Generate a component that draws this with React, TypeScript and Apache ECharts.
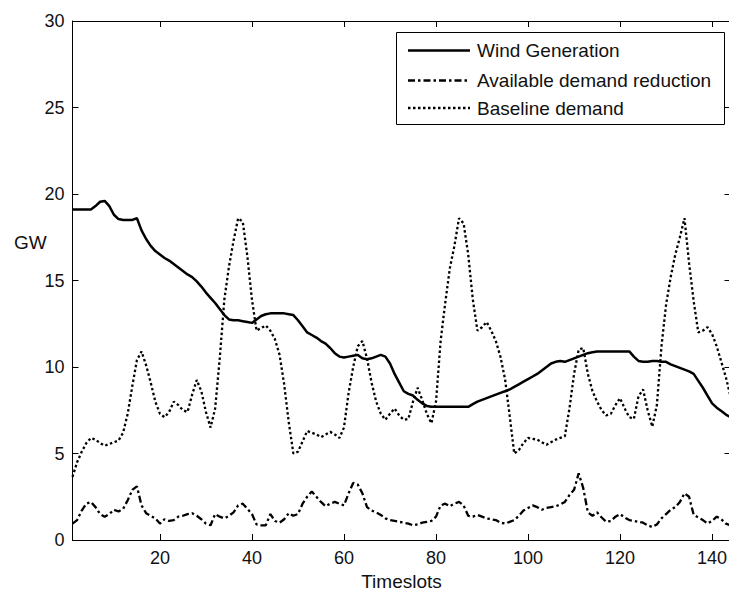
import React, { useEffect, useRef } from "react";
import * as echarts from "echarts";

const SERIES_NAMES = ["Wind Generation", "Available demand reduction", "Baseline demand"];
const X_TICKS = [20, 40, 60, 80, 100, 120, 140];
const X_NAME = "Timeslots";
const Y_NAME = "GW";

const windGeneration = [
  19.1, 19.1, 19.1, 19.1, 19.1, 19.3, 19.55, 19.6, 19.3, 18.8,
  18.55, 18.5, 18.5, 18.5, 18.6, 17.9, 17.4, 17.0, 16.7, 16.5,
  16.3, 16.15, 15.95, 15.75, 15.55, 15.35, 15.2, 14.95, 14.65, 14.3,
  14.0, 13.7, 13.35, 13.0, 12.75, 12.7, 12.7, 12.65, 12.6, 12.55,
  12.75, 12.95, 13.05, 13.1, 13.1, 13.1, 13.1, 13.05, 13.0, 12.7,
  12.35, 12.0, 11.85, 11.7, 11.5, 11.35, 11.1, 10.8, 10.6, 10.55,
  10.6, 10.65, 10.7, 10.5, 10.45, 10.5, 10.6, 10.7, 10.6, 10.2,
  9.6, 9.1, 8.6, 8.45, 8.35, 8.1, 7.9, 7.75, 7.7, 7.7,
  7.7, 7.7, 7.7, 7.7, 7.7, 7.7, 7.7, 7.85, 8.0, 8.1,
  8.2, 8.3, 8.4, 8.5, 8.6, 8.7, 8.85, 9.0, 9.15, 9.3,
  9.45, 9.6, 9.8, 10.0, 10.2, 10.3, 10.35, 10.3, 10.4, 10.5,
  10.6, 10.7, 10.8, 10.85, 10.9, 10.9, 10.9, 10.9, 10.9, 10.9,
  10.9, 10.9, 10.6, 10.35, 10.3, 10.3, 10.35, 10.35, 10.3, 10.3,
  10.15, 10.05, 9.95, 9.85, 9.75, 9.6, 9.2, 8.8, 8.35, 7.9,
  7.65, 7.45, 7.25, 7.1,
];

const demandReduction = [
  0.95, 1.15, 1.7, 2.1, 2.2, 1.9, 1.5, 1.35, 1.5, 1.75,
  1.65, 1.8, 2.3, 2.9, 3.1, 2.0, 1.55, 1.4, 1.25, 0.95,
  1.2, 1.1, 1.15, 1.35, 1.4, 1.5, 1.55, 1.4, 1.2, 0.95,
  0.85, 1.5, 1.35, 1.25, 1.4, 1.6, 2.0, 2.1, 1.8, 1.5,
  0.9, 0.85, 0.85, 1.5, 1.1, 1.0, 1.2, 1.55, 1.4, 1.5,
  2.1, 2.5, 2.8, 2.5, 2.2, 1.95, 2.1, 2.2, 2.1, 2.0,
  2.7, 3.3, 3.2, 2.7, 1.9, 1.7, 1.6, 1.45, 1.25, 1.15,
  1.1, 1.05, 1.0, 0.95, 0.85, 0.9, 1.0, 1.05, 1.1, 1.35,
  2.0, 2.1, 1.95, 2.1, 2.2, 2.0, 1.4, 1.35, 1.45, 1.35,
  1.25, 1.2, 1.15, 1.0, 0.95, 1.05, 1.15, 1.4, 1.7, 1.85,
  2.0, 1.9, 1.75, 1.85, 1.9, 1.95, 2.05, 2.2, 2.6, 2.9,
  3.85, 3.0, 1.6, 1.4, 1.6, 1.3, 1.05, 1.1, 1.35, 1.5,
  1.3, 1.15, 1.1, 1.05, 1.0, 0.85, 0.75, 0.9, 1.25, 1.5,
  1.75, 1.9, 2.2, 2.7, 2.5, 1.45, 1.3, 1.15, 0.95, 1.1,
  1.35, 1.2, 0.95, 0.85,
];

const baselineDemand = [
  3.65, 4.5, 5.1, 5.6, 5.9, 5.8, 5.6, 5.45, 5.55, 5.65,
  5.75, 6.2, 7.3, 8.9, 10.4, 10.9, 10.1, 9.1, 8.0, 7.3,
  7.1, 7.4, 8.0, 7.8, 7.5, 7.4, 8.4, 9.25, 8.6, 7.4,
  6.5, 7.6, 10.5, 13.9, 15.8, 17.3, 18.6, 18.4, 16.4, 13.9,
  12.1, 12.25, 12.4, 12.1, 11.6, 10.7, 9.0, 6.8, 5.0, 5.1,
  5.7, 6.3, 6.2, 6.1, 5.95, 6.1, 6.25, 6.1, 5.9, 6.5,
  8.5, 10.0, 11.2, 11.5, 10.5, 9.1, 8.0, 7.3, 6.95, 7.3,
  7.6, 7.2, 6.95, 7.0, 8.0, 8.8, 8.1, 7.3, 6.75, 8.0,
  11.5, 13.7, 15.7, 17.0, 18.6, 18.3, 16.5, 13.9, 12.1, 12.3,
  12.6, 12.1, 11.5, 10.6, 9.3, 7.2, 5.0, 5.2, 5.6, 5.9,
  5.85, 5.8, 5.65, 5.5, 5.65, 5.8, 5.9, 6.0, 7.6, 9.6,
  11.0, 11.1, 9.6, 8.6, 8.0, 7.5, 7.2, 7.3, 7.8, 8.2,
  7.6, 7.1, 7.0, 8.3, 8.7, 7.5, 6.55, 7.8, 11.2, 13.6,
  15.2, 16.5, 17.5, 18.6, 16.0, 13.8, 12.0, 12.1, 12.3, 11.9,
  11.2, 10.3, 9.4, 8.3,
];

const timeslots = windGeneration.map((_, i) => i + 1);

const FONT = "'Liberation Sans', Arial, sans-serif";
const TEXT_COLOR = "#111";
const DASH_DOT = [7, 3, 2.5, 3];
const DOTTED = [2.5, 2.5];

export default function App() {
  const ref = useRef<HTMLDivElement>(null);

  useEffect(() => {
    if (!ref.current) return;
    const chart = echarts.init(ref.current, undefined, { renderer: "svg" });

    const toPairs = (vals: number[]) => timeslots.map((t, i) => [t, vals[i]]);
    const axisLineStyle = { color: "#000", width: 1 };

    const seriesDefs = [
      { name: SERIES_NAMES[0], vals: windGeneration, type: "solid" as any, width: 2.5 },
      { name: SERIES_NAMES[1], vals: demandReduction, type: DASH_DOT as any, width: 2.3 },
      { name: SERIES_NAMES[2], vals: baselineDemand, type: DOTTED as any, width: 2.3 },
    ];

    const legendRows = [50.5, 80.5, 108];
    const legendGraphics: any[] = [
      {
        type: "rect",
        shape: { x: 396.5, y: 32.5, width: 328, height: 92 },
        style: { fill: "#fff", stroke: "#000", lineWidth: 1 },
        z: 100,
      },
    ];
    seriesDefs.forEach((s, i) => {
      legendGraphics.push({
        type: "line",
        shape: { x1: 408, y1: legendRows[i], x2: 470, y2: legendRows[i] },
        style: {
          stroke: "#000",
          lineWidth: s.width,
          lineDash: Array.isArray(s.type) ? s.type : null,
        },
        z: 101,
      });
      legendGraphics.push({
        type: "text",
        x: 477,
        y: legendRows[i],
        style: {
          text: s.name,
          fontSize: 19,
          fontFamily: FONT,
          fill: TEXT_COLOR,
          align: "left",
          verticalAlign: "middle",
        },
        z: 101,
      });
    });

    chart.setOption({
      animation: false,
      backgroundColor: "#fff",
      grid: { left: 72.5, top: 21, width: 658, height: 519, outerBoundsMode: "none", containLabel: false },
      xAxis: [
        {
          type: "value",
          position: "bottom",
          min: 1,
          max: 144,
          name: X_NAME,
          nameLocation: "middle",
          nameGap: 32,
          nameTextStyle: { fontSize: 19, fontFamily: FONT, color: TEXT_COLOR },
          axisLine: { show: true, onZero: false, lineStyle: axisLineStyle },
          axisTick: { show: true, inside: true, length: 6, customValues: X_TICKS, lineStyle: axisLineStyle },
          axisLabel: { show: true, customValues: X_TICKS, fontSize: 18, fontFamily: FONT, color: TEXT_COLOR, margin: 9 },
          splitLine: { show: false },
        },
        {
          type: "value",
          position: "top",
          min: 1,
          max: 144,
          axisLine: { show: true, onZero: false, lineStyle: axisLineStyle },
          axisTick: { show: true, inside: true, length: 6, customValues: X_TICKS, lineStyle: axisLineStyle },
          axisLabel: { show: false },
          splitLine: { show: false },
        },
      ],
      yAxis: [
        {
          type: "value",
          position: "left",
          min: 0,
          max: 30,
          interval: 5,
          axisLine: { show: true, onZero: false, lineStyle: axisLineStyle },
          axisTick: { show: true, inside: true, length: 6, lineStyle: axisLineStyle },
          axisLabel: { show: true, fontSize: 18, fontFamily: FONT, color: TEXT_COLOR, margin: 8 },
          splitLine: { show: false },
        },
        {
          type: "value",
          position: "right",
          min: 0,
          max: 30,
          interval: 5,
          axisLine: { show: true, onZero: false, lineStyle: axisLineStyle },
          axisTick: { show: true, inside: true, length: 6, lineStyle: axisLineStyle },
          axisLabel: { show: false },
          splitLine: { show: false },
        },
      ],
      series: seriesDefs.map((s) => ({
        type: "line",
        name: s.name,
        data: toPairs(s.vals),
        xAxisIndex: 0,
        yAxisIndex: 0,
        symbol: "none",
        showSymbol: false,
        clip: true,
        lineStyle: { color: "#000", width: s.width, type: s.type },
        emphasis: { disabled: true },
      })),
      graphic: [
        {
          type: "text",
          x: 14,
          y: 242,
          style: {
            text: Y_NAME,
            fontSize: 19,
            fontFamily: FONT,
            fill: TEXT_COLOR,
            align: "left",
            verticalAlign: "middle",
          },
        },
        ...legendGraphics,
      ],
    });

    return () => chart.dispose();
  }, []);

  return (
    <div
      ref={ref}
      style={{ position: "fixed", left: 0, top: 0, width: 729, height: 592, background: "#fff" }}
    />
  );
}
